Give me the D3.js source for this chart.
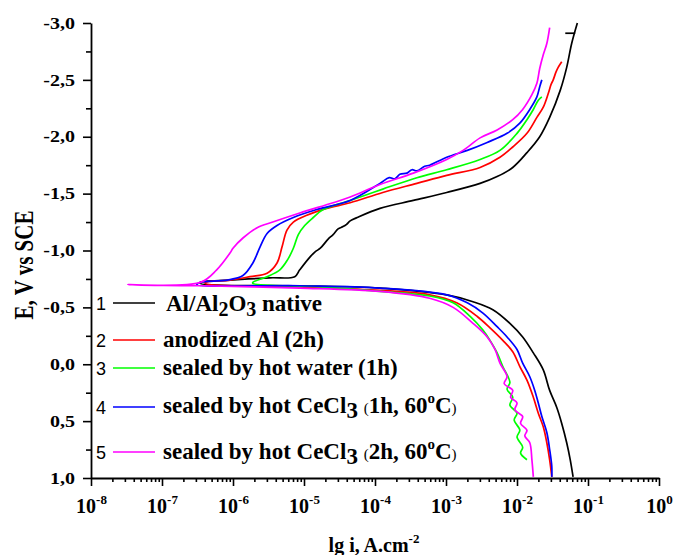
<!DOCTYPE html>
<html>
<head>
<meta charset="utf-8">
<script src="https://cdn.jsdelivr.net/npm/d3@7"></script>
<style>
  body { margin: 0; background: #fff; }
  svg { display: block; }
</style>
</head>
<body>
<div id="chart"></div>
<script>
// polarization curves, points are [lg i, E]
var curve1 = [[-1.15,-3.00],[-1.23,-2.82],[-1.30,-2.61],[-1.39,-2.41],[-1.54,-2.17],[-1.68,-2.00],
  [-1.86,-1.86],[-2.06,-1.73],[-2.28,-1.65],[-2.52,-1.59],[-2.99,-1.51],[-3.46,-1.44],[-3.93,-1.37],
  [-4.25,-1.29],[-4.35,-1.26],[-4.40,-1.23],[-4.45,-1.21],[-4.52,-1.19],[-4.59,-1.14],[-4.66,-1.10],
  [-4.77,-1.02],[-4.84,-0.99],[-4.92,-0.94],[-5.06,-0.83],[-5.13,-0.77],[-5.48,-0.76],[-6.04,-0.74],
  [-6.46,-0.72],[-6.46,-0.71],[-5.06,-0.69],[-3.93,-0.67],[-2.99,-0.61],[-2.62,-0.55],[-2.34,-0.48],
  [-2.10,-0.36],[-1.92,-0.24],[-1.77,-0.10],[-1.63,0.05],[-1.54,0.23],[-1.44,0.38],[-1.37,0.52],
  [-1.30,0.69],[-1.25,0.84],[-1.21,0.99]];
var mark1 = [[-1.32,-2.91],[-1.18,-2.91]];

var curve2 = [[-1.37,-2.66],[-1.42,-2.61],[-1.45,-2.57],[-1.49,-2.50],[-1.52,-2.46],[-1.56,-2.38],
  [-1.63,-2.26],[-1.72,-2.17],[-1.86,-2.03],[-2.06,-1.91],[-2.24,-1.82],[-2.52,-1.73],[-2.99,-1.66],
  [-3.41,-1.59],[-3.89,-1.51],[-4.35,-1.42],[-4.68,-1.37],[-4.96,-1.31],[-5.15,-1.25],[-5.24,-1.18],
  [-5.31,-1.03],[-5.38,-0.89],[-5.52,-0.80],[-5.76,-0.77],[-6.04,-0.74],[-6.39,-0.72],[-6.39,-0.71],
  [-5.06,-0.68],[-3.93,-0.65],[-3.23,-0.61],[-2.85,-0.54],[-2.56,-0.42],[-2.38,-0.32],[-2.20,-0.21],
  [-2.06,-0.11],[-1.96,0.02],[-1.86,0.14],[-1.77,0.29],[-1.70,0.43],[-1.63,0.55],[-1.58,0.69],
  [-1.54,0.84],[-1.51,0.99]];

var curve3 = [[-1.65,-2.35],[-1.70,-2.32],[-1.77,-2.24],[-1.86,-2.15],[-2.00,-2.03],[-2.24,-1.88],
  [-2.52,-1.80],[-2.99,-1.71],[-3.41,-1.64],[-3.89,-1.54],[-4.35,-1.44],[-4.73,-1.36],[-4.87,-1.29],
  [-4.99,-1.22],[-5.08,-1.14],[-5.15,-1.02],[-5.23,-0.92],[-5.34,-0.83],[-5.52,-0.77],[-5.72,-0.72],
  [-5.72,-0.71],[-4.77,-0.68],[-3.93,-0.64],[-3.23,-0.60],[-2.90,-0.54],[-2.66,-0.42],[-2.48,-0.30],
  [-2.38,-0.21],[-2.28,-0.10],[-2.20,0.02],[-2.10,0.16],[-2.14,0.22],[-2.06,0.29],[-2.10,0.36],
  [-2.00,0.43],[-2.04,0.49],[-1.96,0.58],[-2.00,0.64],[-1.92,0.73],[-1.95,0.78],[-1.86,0.84]];

var curve4 = [[-1.65,-2.50],[-1.68,-2.44],[-1.72,-2.35],[-1.82,-2.24],[-1.96,-2.12],[-2.14,-2.03],
  [-2.42,-1.95],[-2.70,-1.88],[-2.99,-1.82],[-3.23,-1.75],[-3.30,-1.74],[-3.41,-1.70],[-3.48,-1.71],
  [-3.55,-1.68],[-3.65,-1.67],[-3.72,-1.63],[-3.80,-1.64],[-3.93,-1.59],[-4.35,-1.44],[-4.82,-1.36],
  [-5.15,-1.29],[-5.38,-1.22],[-5.52,-1.15],[-5.62,-1.03],[-5.72,-0.89],[-5.86,-0.78],[-6.08,-0.74],
  [-6.46,-0.72],[-6.51,-0.70],[-5.06,-0.69],[-3.93,-0.67],[-2.99,-0.61],[-2.70,-0.54],[-2.48,-0.45],
  [-2.28,-0.33],[-2.14,-0.24],[-2.00,-0.13],[-1.92,-0.01],[-1.82,0.11],[-1.75,0.23],[-1.70,0.34],
  [-1.65,0.46],[-1.58,0.60],[-1.54,0.75],[-1.51,0.90],[-1.51,0.99]];

var curve5 = [[-1.54,-2.96],[-1.58,-2.82],[-1.63,-2.72],[-1.68,-2.60],[-1.72,-2.47],[-1.79,-2.37],
  [-1.92,-2.24],[-2.06,-2.15],[-2.28,-2.06],[-2.52,-1.99],[-2.76,-1.88],[-2.99,-1.80],[-3.46,-1.68],
  [-3.93,-1.58],[-4.35,-1.47],[-4.59,-1.42],[-5.06,-1.33],[-5.44,-1.25],[-5.66,-1.20],[-5.86,-1.11],
  [-6.00,-1.02],[-6.04,-0.98],[-6.23,-0.83],[-6.46,-0.72],[-7.48,-0.70],[-6.46,-0.69],[-5.06,-0.67],
  [-3.93,-0.64],[-3.23,-0.58],[-2.90,-0.50],[-2.62,-0.36],[-2.42,-0.24],[-2.31,-0.13],[-2.24,-0.01],
  [-2.14,0.11],[-2.18,0.17],[-2.06,0.23],[-2.09,0.29],[-2.00,0.34],[-2.03,0.40],[-1.92,0.46],
  [-1.95,0.52],[-1.86,0.58],[-1.89,0.63],[-1.82,0.69],[-1.79,0.84],[-1.77,0.99]];

var curves = [curve1, curve2, curve3, curve4, curve5];
var colors = ['#000000', '#ff0000', '#00ff00', '#0000ff', '#ff00ff'];

var xTicks = [1e-8, 1e-7, 1e-6, 1e-5, 1e-4, 1e-3, 1e-2, 1e-1, 1];
var yTicks = [-3, -2.5, -2, -1.5, -1, -0.5, 0, 0.5, 1];

var width = 673,
    height = 555,
    plotL = 91, plotR = 659, plotT = 23, plotB = 478,
    serif = '"Liberation Serif", "Times New Roman", serif';

var svg = d3.select('#chart').append('svg')
    .attr('width', width)
    .attr('height', height);

var xScale = d3.scaleLog().domain([1e-8, 1]).range([plotL, plotR]);
var yScale = d3.scaleLinear().domain([-3, 1]).range([plotT, plotB]);

// minor ticks
var xMinor = [];
for (var p = -8; p < 0; p++)
    for (var m = 2; m < 10; m++) xMinor.push(m * Math.pow(10, p));
var yMinor = [];
for (var k = 0; k < yTicks.length - 1; k++) yMinor.push(yTicks[k] + 0.25);

function styleAxis(g) {
    g.selectAll('path').style('stroke', '#000').style('stroke-width', 1.8);
    g.selectAll('line').style('stroke', '#000').style('stroke-width', 1.6);
}

var xMin = svg.append('g').attr('transform', 'translate(0,' + plotB + ')')
    .call(d3.axisBottom(xScale).tickValues(xMinor).tickSize(4).tickSizeOuter(0).tickFormat(''));
styleAxis(xMin);
xMin.select('path').remove();

var xAx = svg.append('g').attr('transform', 'translate(0,' + plotB + ')')
    .call(d3.axisBottom(xScale).tickValues(xTicks).tickSize(8).tickSizeOuter(0).tickPadding(12).tickFormat(''));
styleAxis(xAx);
xAx.selectAll('.tick text').each(function (d) {
    var t = d3.select(this)
        .attr('font-family', serif).attr('font-weight', 'bold').attr('font-size', 20)
        .attr('fill', '#000').attr('dy', '0.75em');
    t.append('tspan').text('10');
    t.append('tspan').attr('font-size', 13).attr('dy', -9).text(Math.round(Math.log10(d)));
});

var yMin = svg.append('g').attr('transform', 'translate(' + plotL + ',0)')
    .call(d3.axisLeft(yScale).tickValues(yMinor).tickSize(5).tickSizeOuter(0).tickFormat(''));
styleAxis(yMin);
yMin.select('path').remove();

var yAx = svg.append('g').attr('transform', 'translate(' + plotL + ',0)')
    .call(d3.axisLeft(yScale).tickValues(yTicks).tickSize(8).tickSizeOuter(0).tickPadding(8)
        .tickFormat(function (d) { return d.toFixed(1).replace('.', ','); }));
styleAxis(yAx);
yAx.selectAll('.tick text')
    .attr('font-family', serif).attr('font-weight', 'bold').attr('font-size', 16).attr('fill', '#000')
    .each(function () {
        var w = this.getComputedTextLength();
        d3.select(this).attr('textLength', w * 1.25).attr('lengthAdjust', 'spacingAndGlyphs');
    });

// axis titles
svg.append('text')
    .attr('transform', 'translate(33,265) rotate(-90) scale(1,1.25)')
    .attr('text-anchor', 'middle')
    .attr('font-family', serif).attr('font-weight', 'bold').attr('font-size', 21)
    .text('E, V vs SCE');

var xt = svg.append('text')
    .attr('x', 374).attr('y', 552)
    .attr('text-anchor', 'middle')
    .attr('font-family', serif).attr('font-weight', 'bold').attr('font-size', 20);
xt.append('tspan').text('lg i, A.cm');
xt.append('tspan').attr('font-size', 13).attr('dy', -9).text('-2');

// curves
var line = d3.line()
    .curve(d3.curveCatmullRom.alpha(0.5))
    .x(function (d) { return xScale(Math.pow(10, d[0])); })
    .y(function (d) { return yScale(d[1]); });

svg.append('g').selectAll('path')
    .data(curves)
    .enter().append('path')
        .attr('d', line)
        .style('fill', 'none')
        .style('stroke', function (d, i) { return colors[i]; })
        .style('stroke-width', 1.7)
        .style('stroke-linejoin', 'round');

svg.append('path')
    .attr('d', line(mark1))
    .style('fill', 'none').style('stroke', '#000').style('stroke-width', 1.7);

// legend
var legendY = [303, 340, 368, 407, 452];
var legend = svg.append('g');
legendY.forEach(function (y, i) {
    legend.append('text')
        .attr('x', 106).attr('y', y + 6.5)
        .attr('text-anchor', 'end')
        .attr('font-family', '"Liberation Sans", Arial, sans-serif').attr('font-size', 18)
        .text(i + 1);
    legend.append('line')
        .attr('x1', 113).attr('x2', 155).attr('y1', y).attr('y2', y)
        .style('stroke', colors[i]).style('stroke-width', 1.7);
});

function label(x, y) {
    return legend.append('text').attr('x', x).attr('y', y)
        .attr('font-family', serif).attr('font-weight', 'bold').attr('font-size', 23);
}

var l1 = label(166, 311);
l1.append('tspan').text('Al/Al');
l1.append('tspan').attr('font-size', 20).attr('dy', 5).text('2');
l1.append('tspan').attr('dy', -5).text('O');
l1.append('tspan').attr('font-size', 20).attr('dy', 5).text('3');
l1.append('tspan').attr('dy', -5).text(' native');

label(163, 347).text('anodized Al (2h)');
label(163, 375).text('sealed by hot water (1h)');

[[413, '1h, 60'], [459, '2h, 60']].forEach(function (r) {
    var t = label(163, r[0]);
    t.append('tspan').text('sealed by hot CeCl');
    t.append('tspan').attr('dy', 5).text('3');
    t.append('tspan').attr('dy', -5).text(' ');
    t.append('tspan').attr('font-size', 15).attr('font-weight', 'normal').text('(');
    t.append('tspan').text(r[1]);
    t.append('tspan').attr('font-size', 15).attr('dy', -10).text('o');
    t.append('tspan').attr('dy', 10).text('C');
    t.append('tspan').attr('font-size', 15).attr('font-weight', 'normal').text(')');
});
</script>
</body>
</html>
